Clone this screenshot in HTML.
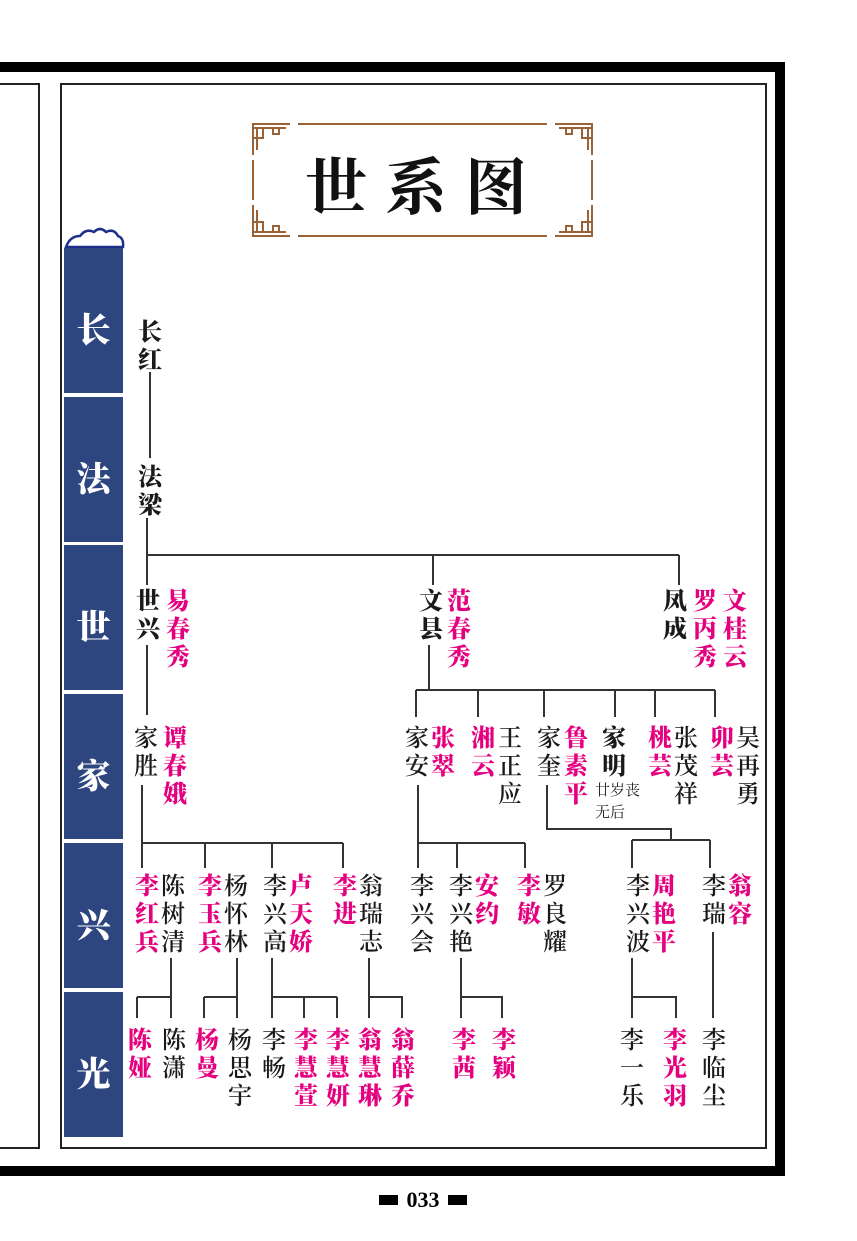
<!DOCTYPE html>
<html><head><meta charset="utf-8">
<style>
html,body{margin:0;padding:0;background:#fff;}
body{width:857px;height:1241px;position:relative;overflow:hidden;font-family:"Liberation Serif","Noto Serif CJK SC",serif;}
.a{position:absolute;}
.v{position:absolute;width:26px;font-size:24px;line-height:28px;word-break:break-all;color:#1a1a1a;font-family:"Noto Serif CJK SC","Noto Sans CJK SC",serif;font-weight:600;text-align:center;}
.p{color:#e4007f;font-weight:900;}
.b{font-weight:900;}
.lab{position:absolute;left:64px;width:59px;height:145px;background:#2e4680;color:#fff;font-family:"Noto Serif CJK SC",serif;font-weight:900;font-size:34px;line-height:160px;text-align:center;}
</style></head><body>
<div class="a" style="left:0;top:62px;width:785px;height:10px;background:#000"></div>
<div class="a" style="left:775px;top:62px;width:10px;height:1114px;background:#000"></div>
<div class="a" style="left:0;top:1166px;width:785px;height:10px;background:#000"></div>
<div class="a" style="left:60px;top:83px;width:703px;height:1062px;border:2px solid #222"></div>
<div class="a" style="left:0;top:83px;width:38px;height:1062px;border-top:2px solid #222;border-right:2px solid #222;border-bottom:2px solid #222"></div>

<svg class="a" style="left:0;top:0" width="857" height="1241">
<g stroke="#9b6235" stroke-width="2" fill="none">
<line x1="298" y1="124" x2="547" y2="124"/><line x1="298" y1="236" x2="547" y2="236"/>
<line x1="253" y1="160" x2="253" y2="200"/><line x1="592" y1="160" x2="592" y2="200"/>
<path d="M253 155 V124 H290 M257 150 V128 H286 M253 128 h10 v10 h-10 M263 128 h10 v6 h6 v-6"/>
<path d="M592 155 V124 H555 M588 150 V128 H559 M592 128 h-10 v10 h10 M582 128 h-10 v6 h-6 v-6"/>
<path d="M253 205 V236 H290 M257 210 V232 H286 M253 232 h10 v-10 h-10 M263 232 h10 v-6 h6 v6"/>
<path d="M592 205 V236 H555 M588 210 V232 H559 M592 232 h-10 v-10 h10 M582 232 h-10 v-6 h-6 v6"/>
</g>
<path d="M66 247 Q70 236 80 236 Q86 228 94 232 Q100 226 106 232 Q114 228 118 236 Q124 238 123 247 Z" fill="none" stroke="#1e2f8a" stroke-width="2.5"/>
<g stroke="#333" stroke-width="2" fill="none">
<line x1="150" y1="372" x2="150" y2="458"/>
<line x1="147" y1="518" x2="147" y2="555"/>
<path d="M147 555 H679 M147 555 V585 M433 555 V585 M679 555 V585"/>
<line x1="147" y1="645" x2="147" y2="715"/>
<path d="M429 645 V690 M416 690 H715 M416 690 V717 M478 690 V717 M544 690 V717 M615 690 V717 M655 690 V717 M715 690 V717"/>
<path d="M142 785 V843 H343 M142 843 V868 M205 843 V868 M272 843 V868 M343 843 V868"/>
<path d="M171 958 V997 M137 997 H171 M137 997 V1018 M171 997 V1018"/>
<path d="M237 958 V1018 M204 997 H237 M204 997 V1018"/>
<path d="M272 958 V1018 M272 997 H337 M304 997 V1018 M337 997 V1018"/>
<path d="M369 958 V1018 M369 997 H402 V1018"/>
<path d="M418 785 V843 H525 M418 843 V868 M457 843 V868 M525 843 V868"/>
<path d="M461 958 V1018 M461 997 H502 V1018"/>
<path d="M547 785 V829 H671 V840 M632 840 H710 M632 840 V868 M710 840 V868"/>
<path d="M632 958 V1018 M632 997 H676 V1018"/>
<path d="M713 932 V1018"/>
</g>
</svg>
<div class="a" style="left:305px;top:138px;font-family:'Noto Serif CJK SC',serif;font-weight:700;font-size:62px;line-height:90px;letter-spacing:18px;color:#111">世系图</div>

<div class="lab" style="top:248px">长</div>
<div class="lab" style="top:397px">法</div>
<div class="lab" style="top:545px">世</div>
<div class="lab" style="top:694px">家</div>
<div class="lab" style="top:843px">兴</div>
<div class="lab" style="top:992px">光</div>

<div class="v b" style="left:137px;top:316px">长红</div>
<div class="v b" style="left:137px;top:461px">法梁</div>
<div class="v b" style="left:135px;top:585px">世兴</div>
<div class="v p" style="left:165px;top:585px">易春秀</div>
<div class="v b" style="left:418px;top:585px">文县</div>
<div class="v p" style="left:446px;top:585px">范春秀</div>
<div class="v b" style="left:662px;top:585px">凤成</div>
<div class="v p" style="left:692px;top:585px">罗丙秀</div>
<div class="v p" style="left:722px;top:585px">文桂云</div>

<div class="v" style="left:133px;top:722px">家胜</div>
<div class="v p" style="left:162px;top:722px">谭春娥</div>
<div class="v" style="left:404px;top:722px">家安</div>
<div class="v p" style="left:430px;top:722px">张翠</div>
<div class="v p" style="left:470px;top:722px">湘云</div>
<div class="v" style="left:497px;top:722px">王正应</div>
<div class="v" style="left:536px;top:722px">家奎</div>
<div class="v p" style="left:563px;top:722px">鲁素平</div>
<div class="v b" style="left:601px;top:722px">家明</div>
<div class="a" style="left:595px;top:779px;width:60px;font-size:15px;line-height:22px;font-family:'Noto Serif CJK SC',serif;color:#222">廿岁丧<br>无后</div>
<div class="v p" style="left:647px;top:722px">桃芸</div>
<div class="v" style="left:673px;top:722px">张茂祥</div>
<div class="v p" style="left:709px;top:722px">卯芸</div>
<div class="v" style="left:735px;top:722px">吴再勇</div>

<div class="v p" style="left:134px;top:870px">李红兵</div>
<div class="v" style="left:160px;top:870px">陈树清</div>
<div class="v p" style="left:197px;top:870px">李玉兵</div>
<div class="v" style="left:223px;top:870px">杨怀林</div>
<div class="v" style="left:262px;top:870px">李兴高</div>
<div class="v p" style="left:288px;top:870px">卢天娇</div>
<div class="v p" style="left:332px;top:870px">李进</div>
<div class="v" style="left:358px;top:870px">翁瑞志</div>
<div class="v" style="left:409px;top:870px">李兴会</div>
<div class="v" style="left:448px;top:870px">李兴艳</div>
<div class="v p" style="left:474px;top:870px">安约</div>
<div class="v p" style="left:516px;top:870px">李敏</div>
<div class="v" style="left:542px;top:870px">罗良耀</div>
<div class="v" style="left:625px;top:870px">李兴波</div>
<div class="v p" style="left:651px;top:870px">周艳平</div>
<div class="v" style="left:701px;top:870px">李瑞</div>
<div class="v p" style="left:727px;top:870px">翁容</div>

<div class="v p" style="left:127px;top:1024px">陈娅</div>
<div class="v" style="left:161px;top:1024px">陈潇</div>
<div class="v p" style="left:194px;top:1024px">杨曼</div>
<div class="v" style="left:227px;top:1024px">杨思宇</div>
<div class="v" style="left:261px;top:1024px">李畅</div>
<div class="v p" style="left:293px;top:1024px">李慧萱</div>
<div class="v p" style="left:325px;top:1024px">李慧妍</div>
<div class="v p" style="left:357px;top:1024px">翁慧琳</div>
<div class="v p" style="left:390px;top:1024px">翁薛乔</div>
<div class="v p" style="left:451px;top:1024px">李茜</div>
<div class="v p" style="left:491px;top:1024px">李颖</div>
<div class="v" style="left:619px;top:1024px">李一乐</div>
<div class="v p" style="left:662px;top:1024px">李光羽</div>
<div class="v" style="left:701px;top:1024px">李临尘</div>

<div class="a" style="left:379px;top:1195px;width:19px;height:10px;background:#000"></div>
<div class="a" style="left:448px;top:1195px;width:19px;height:10px;background:#000"></div>
<div class="a" style="left:398px;top:1186px;width:50px;text-align:center;font-family:'Liberation Serif',serif;font-weight:bold;font-size:22px;line-height:28px;color:#000">033</div>
</body></html>
